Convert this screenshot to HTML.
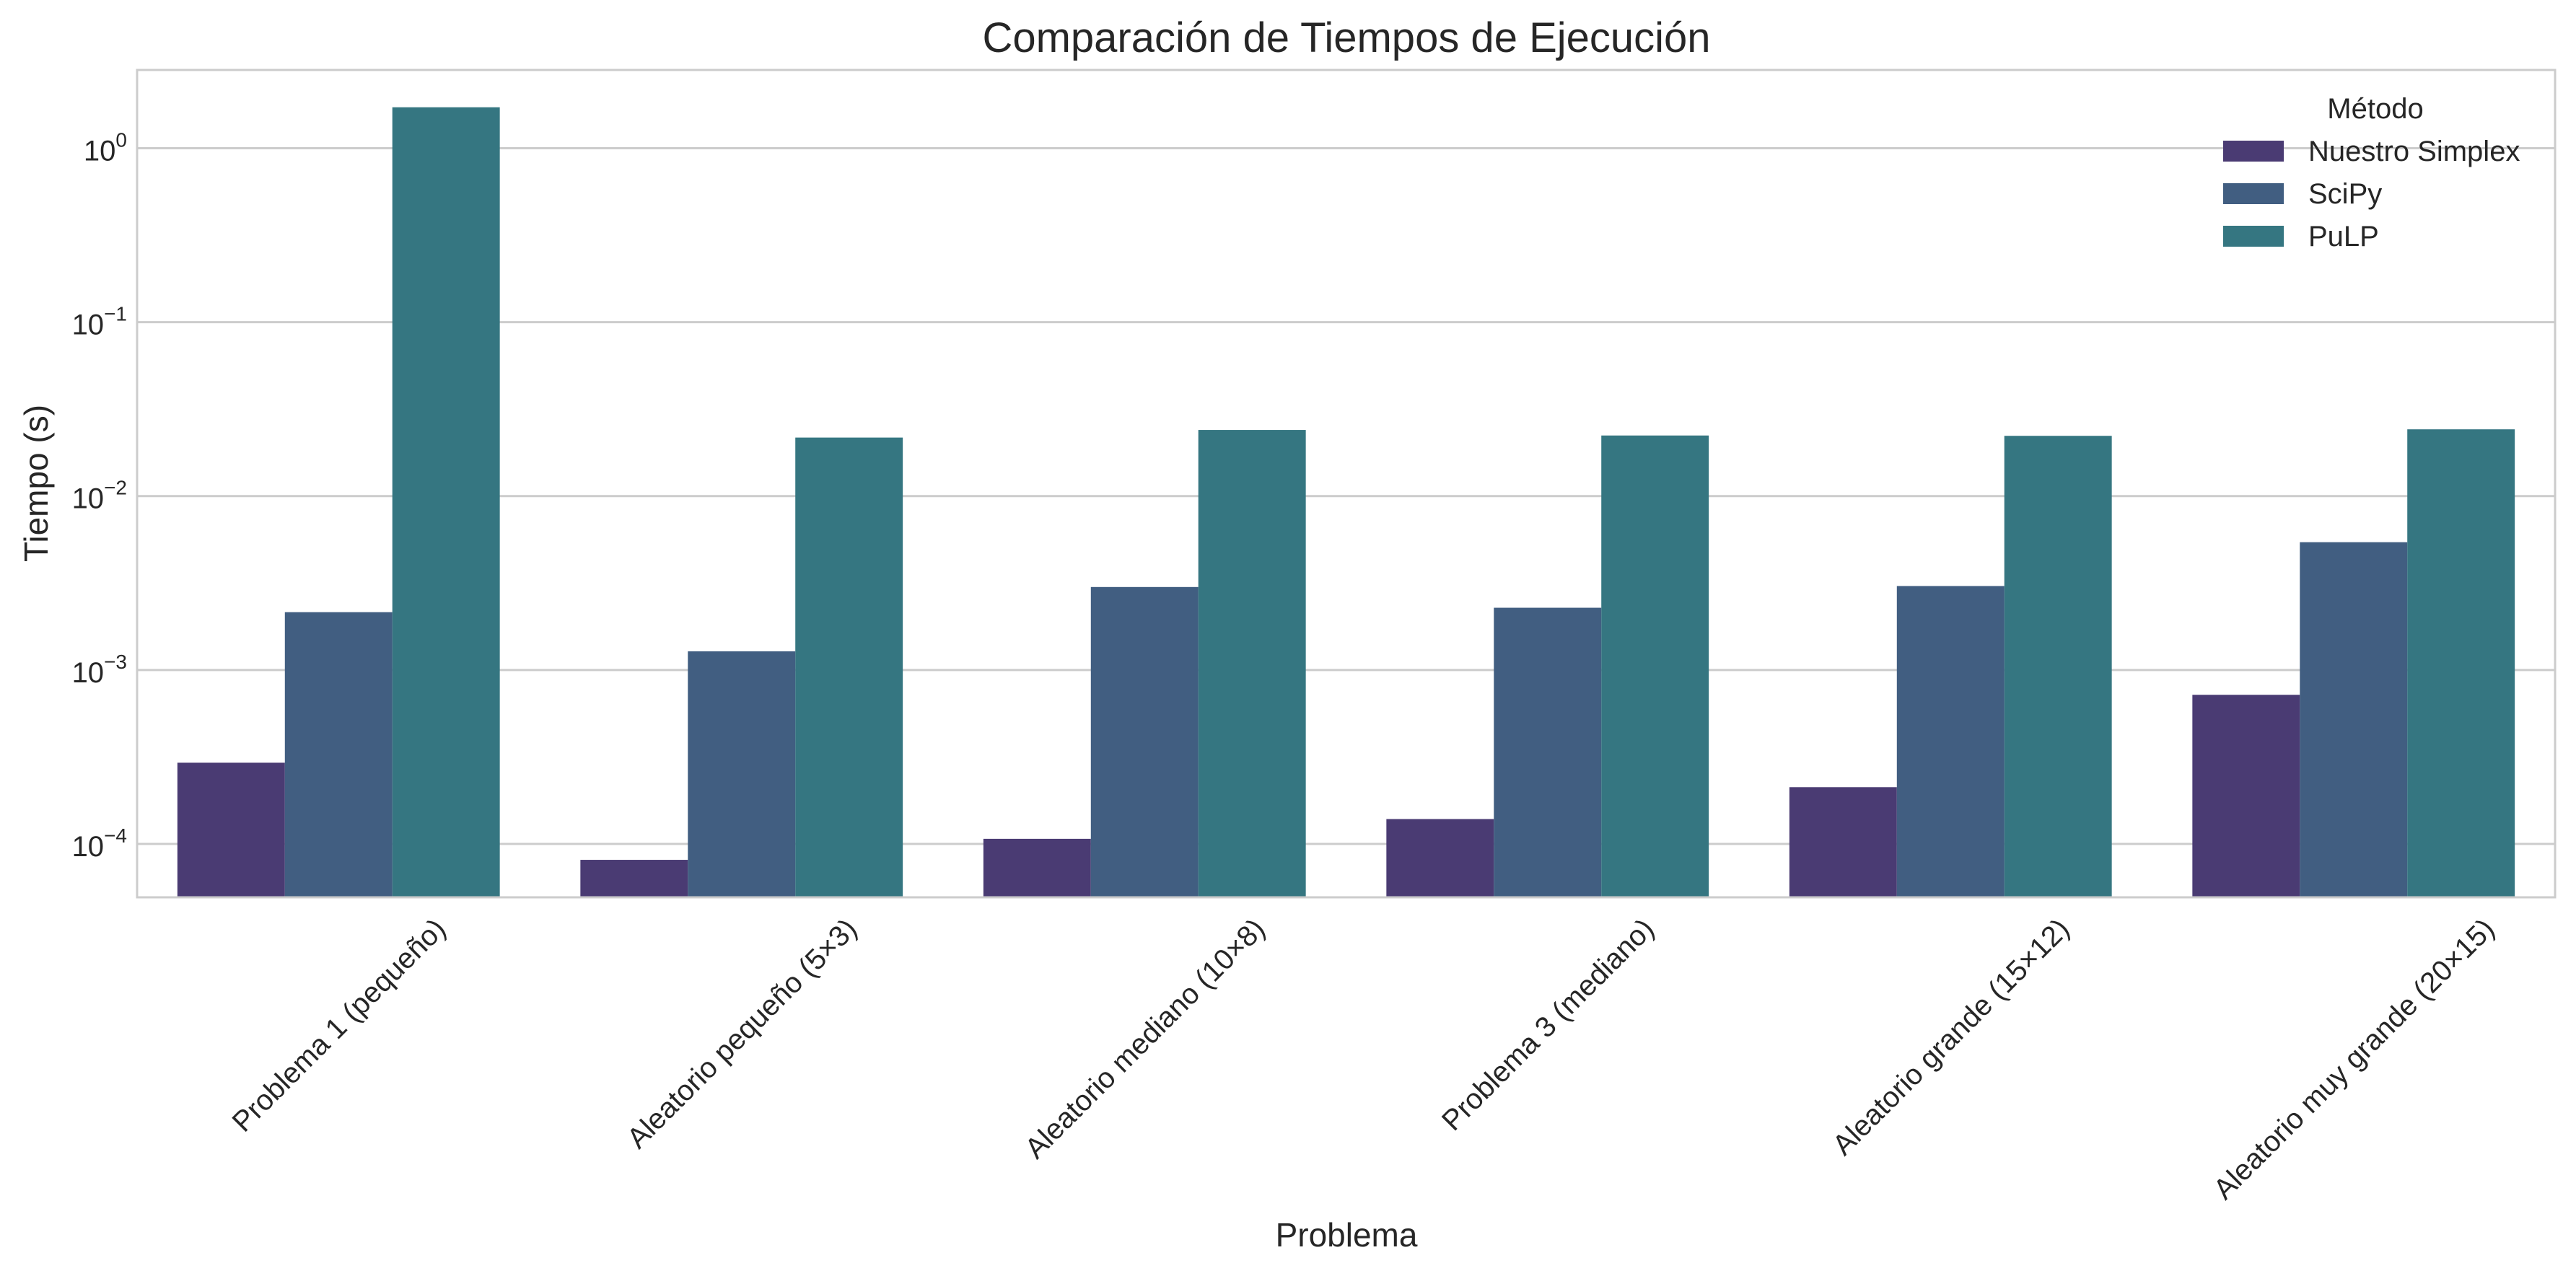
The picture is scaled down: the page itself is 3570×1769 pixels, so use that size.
<!DOCTYPE html>
<html><head><meta charset="utf-8"><style>
html,body{margin:0;padding:0;background:#fff;}
svg{display:block;font-family:"Liberation Sans",Arial,sans-serif;}
</style></head><body>
<svg id="chart" width="3570" height="1769" viewBox="0 0 3570 1769" xmlns="http://www.w3.org/2000/svg">
<rect width="3570" height="1769" fill="#fff"/>
<text x="1866" y="72" font-size="58" fill="#262626" text-anchor="middle">Comparación de Tiempos de Ejecución</text>
<g id="grid"></g>
<g id="bars"></g>
<g id="yticks"></g>
<g id="xticks"></g>
<rect x="190" y="97" width="3351" height="1147" fill="none" stroke="#cccccc" stroke-width="3"/>
<text transform="translate(66,670) rotate(-90)" font-size="46" fill="#262626" text-anchor="middle">Tiempo (s)</text>
<text x="1866" y="1728" font-size="46" fill="#262626" text-anchor="middle">Problema</text>
<g id="legend"></g>
</svg>
<script>
const categories = ["Problema 1 (pequeño)","Aleatorio pequeño (5×3)","Aleatorio mediano (10×8)","Problema 3 (mediano)","Aleatorio grande (15×12)","Aleatorio muy grande (20×15)"];
const seriesNames = ["Nuestro Simplex","SciPy","PuLP"];
const simplexValues = [2.93e-4, 8.1e-5, 1.07e-4, 1.39e-4, 2.12e-4, 7.2e-4];
const scipyValues = [2.15e-3, 1.28e-3, 3.0e-3, 2.28e-3, 3.04e-3, 5.43e-3];
const pulpValues = [1.72, 0.0217, 0.024, 0.0223, 0.0222, 0.0242];
const yTickExps = [0, -1, -2, -3, -4];
const colors = ["#4a3b73","#415e81","#357681"];

const NS="http://www.w3.org/2000/svg";
const X0=190, X1=3541, Y0=97, Y1=1244;
const logMin=-4.307, logMax=0.450;
function yScale(v){ const l=Math.log10(v); return Y1-(l-logMin)/(logMax-logMin)*(Y1-Y0); }
const band=(X1-X0)/categories.length;
function xCenter(i){ return X0+band*(i+0.5); }
function mk(tag,attrs,parent){ const e=document.createElementNS(NS,tag); for(const k in attrs) e.setAttribute(k,attrs[k]); parent.appendChild(e); return e; }

const grid=document.getElementById('grid');
const yt=document.getElementById('yticks');
yTickExps.forEach(ex=>{
  const y=yScale(Math.pow(10,ex));
  const ln=mk('line',{x1:X0,x2:X1,y1:y,y2:y,stroke:'#cccccc','stroke-width':3},grid);
  
  
  const t=mk('text',{x:176,y:y+17,'font-size':40,fill:'#262626','text-anchor':'end'},yt);
  
  
  const base=document.createElementNS(NS,'tspan'); base.textContent='10'; t.appendChild(base);
  const sup=document.createElementNS(NS,'tspan'); sup.setAttribute('dy','-19'); sup.setAttribute('font-size','28');
  sup.textContent = ex<0 ? '\u2212'+(-ex) : String(ex); t.appendChild(sup);
});

const barsG=document.getElementById('bars');
const allSeries=[simplexValues,scipyValues,pulpValues];
const bw=band*0.8/3;
allSeries.forEach((vals,s)=>{
  vals.forEach((v,i)=>{
    const x=xCenter(i)-band*0.4+s*bw;
    const y=yScale(v);
    const r=mk('rect',{x:x,y:y,width:bw,height:Y1-y,fill:colors[s]},barsG);
    
    
  });
});

const xt=document.getElementById('xticks');
categories.forEach((c,i)=>{
  const t=mk('text',{'font-size':40,fill:'#262626','text-anchor':'middle'},xt);
  
  
  t.textContent=c;
  const L=t.getComputedTextLength();
  const half=(L+40)*0.7071/2;
  const cx=xCenter(i), cy=1266+half;
  t.setAttribute('transform','translate('+cx+','+cy+') rotate(-45)');
  t.setAttribute('y',14);
});

const lg=document.getElementById('legend');
const lt=mk('text',{x:3292,y:164,'font-size':40,fill:'#262626','text-anchor':'middle'},lg);


lt.textContent='Método';
seriesNames.forEach((n,s)=>{
  const y=195+s*59;
  const p=mk('rect',{x:3081,y:y,width:84,height:29,fill:colors[s]},lg);
  
  
  const t=mk('text',{x:3199,y:y+28,'font-size':40,fill:'#262626'},lg);
  
  
  t.textContent=n;
});
</script>
</body></html>
